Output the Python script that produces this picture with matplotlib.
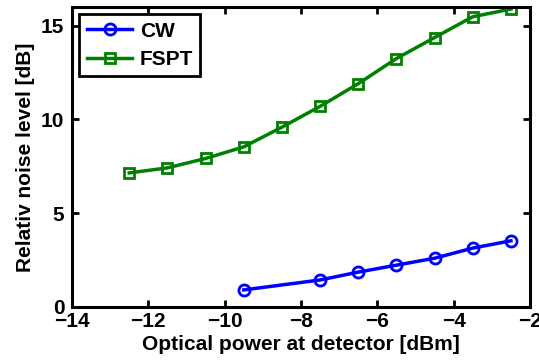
import matplotlib
matplotlib.use("Agg")
import matplotlib.pyplot as plt

# Data
fspt_x = [-12.5, -11.5, -10.5, -9.5, -8.5, -7.5, -6.5, -5.5, -4.5, -3.5, -2.5]
fspt_y = [7.15, 7.42, 7.92, 8.54, 9.59, 10.7, 11.91, 13.25, 14.37, 15.48, 15.89]
cw_x = [-9.5, -7.5, -6.5, -5.5, -4.5, -3.5, -2.5]
cw_y = [0.91, 1.44, 1.86, 2.23, 2.6, 3.14, 3.53]

plt.rcParams["font.family"] = ["Liberation Sans", "DejaVu Sans"]
plt.rcParams["font.weight"] = "bold"

FS = 15

fig = plt.figure(figsize=(5.39, 3.62), dpi=100)
ax = fig.add_axes([0.1336, 0.152, 0.8497, 0.8287])

ax.plot(cw_x, cw_y, color="#0000ff", lw=2.5, marker="o", ms=8,
        mfc="none", mew=2, label="CW")
ax.plot(fspt_x, fspt_y, color="#008000", lw=2.5, marker="s", ms=7,
        mfc="none", mew=2, label="FSPT")

ax.set_xlim(-14, -2)
ax.set_ylim(0, 16)
ax.set_xticks([-14, -12, -10, -8, -6, -4, -2])
ax.set_yticks([0, 5, 10, 15])
ax.set_xticklabels(["\u221214", "\u221212", "\u221210", "\u22128", "\u22126", "\u22124", "\u22122"])

ax.tick_params(direction="in", top=True, right=True, length=5, width=2,
               labelsize=FS)
ax.tick_params(axis="x", pad=3.5)
ax.tick_params(axis="y", pad=5.5)
for s in ax.spines.values():
    s.set_linewidth(2.2)

ax.set_xlabel("Optical power at detector [dBm]", fontsize=FS, fontweight="bold", labelpad=3)
ax.set_ylabel("Relativ noise level [dB]", fontsize=FS, fontweight="bold", labelpad=4)

leg = ax.legend(loc="upper left", fontsize=FS, fancybox=False, framealpha=1,
                edgecolor="black", borderaxespad=0.35, handlelength=2.2,
                borderpad=0.35, labelspacing=0.45, handletextpad=0.35)
leg.get_frame().set_linewidth(2)
for t in leg.get_texts():
    t.set_fontweight("bold")

fig.savefig("out.png", dpi=100)
